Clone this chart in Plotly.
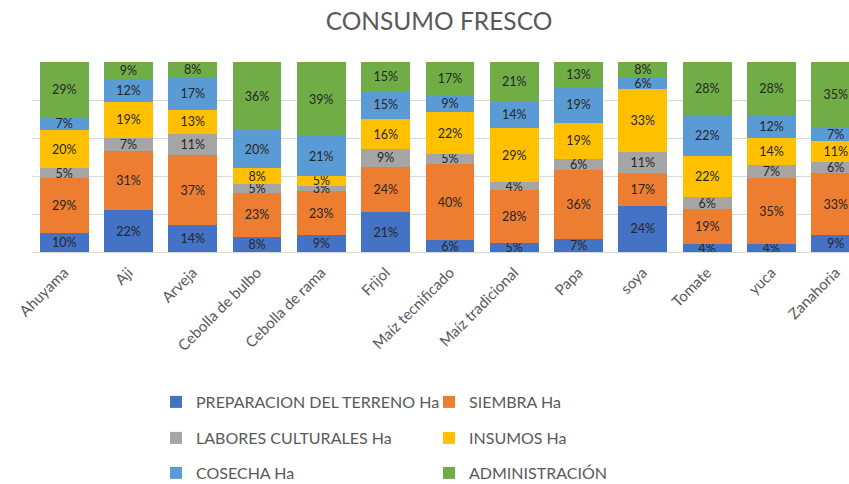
import plotly.graph_objects as go

# Cultivos (eje X)
cultivos = ["Ahuyama", "Aji", "Arveja", "Cebolla de bulbo", "Cebolla de rama", "Frijol",
            "Maíz tecnificado", "Maíz tradicional", "Papa", "soya", "Tomate", "yuca", "Zanahoria"]

# Participación (%) de cada rubro de costo por cultivo
preparacion = [10, 22, 14, 8, 9, 21, 6, 5, 7, 24, 4, 4, 9]
siembra = [29, 31, 37, 23, 23, 24, 40, 28, 36, 17, 19, 35, 33]
labores = [5, 7, 11, 5, 3, 9, 5, 4, 6, 11, 6, 7, 6]
insumos = [20, 19, 13, 8, 5, 16, 22, 29, 19, 33, 22, 14, 11]
cosecha = [7, 12, 17, 20, 21, 15, 9, 14, 19, 6, 22, 12, 7]
administracion = [29, 9, 8, 36, 39, 15, 17, 21, 13, 8, 28, 28, 35]

series = [
    ("PREPARACION DEL TERRENO Ha", preparacion, "#4472C4", "legend"),
    ("SIEMBRA Ha", siembra, "#ED7D31", "legend"),
    ("LABORES CULTURALES Ha", labores, "#A5A5A5", "legend2"),
    ("INSUMOS Ha", insumos, "#FFC000", "legend2"),
    ("COSECHA Ha", cosecha, "#5B9BD5", "legend3"),
    ("ADMINISTRACIÓN", administracion, "#70AD47", "legend3"),
]

FONT = "Lato, Open Sans, sans-serif"

fig = go.Figure()
for name, vals, color, leg in series:
    fig.add_trace(go.Bar(
        x=cultivos, y=vals, name=name,
        marker=dict(color=color, line=dict(width=0)),
        text=[f"{v}%" for v in vals],
        textposition="inside", insidetextanchor="middle", textangle=0,
        textfont=dict(family=FONT, size=12.5, color="#262626"),
        constraintext="none",
        legend=leg,
    ))

# Figure and plotting-area geometry in pixels
W, H = 849, 484
ml, mt, mb = 32, 62, 232
pitch = 64.3
plot_w = W - ml

# Three one-row legends give the two-column, widely spaced key
legend_common = dict(
    orientation="h", xanchor="left", yanchor="middle",
    xref="container", yref="container",
    traceorder="normal",
    font=dict(family=FONT, size=16, color="#595959"),
    entrywidth=228, entrywidthmode="pixels",
    bgcolor="rgba(0,0,0,0)", itemclick=False, itemdoubleclick=False,
    x=156 / W,
)

fig.update_layout(
    width=W, height=H,
    margin=dict(l=ml, r=0, t=mt, b=mb, autoexpand=False),
    paper_bgcolor="white", plot_bgcolor="white",
    barmode="stack", barnorm="percent", bargap=0.24,
    uniformtext=dict(minsize=12, mode="show"),
    title=dict(text="CONSUMO FRESCO", x=439 / W, xanchor="center",
               y=1 - 21 / H, yanchor="middle",
               font=dict(family=FONT, size=24.5, color="#595959")),
    xaxis=dict(range=[-0.5, -0.5 + plot_w / pitch], tickangle=-45,
               tickfont=dict(family=FONT, size=15, color="#595959"),
               ticklabelstandoff=5,
               showline=True, linecolor="#D9D9D9", linewidth=1,
               ticks="", showgrid=False),
    yaxis=dict(range=[0, 100], dtick=20, showticklabels=False,
               gridcolor="#D9D9D9", gridwidth=1, zeroline=False),
    legend=dict(**legend_common, y=1 - 402 / H),
    legend2=dict(**legend_common, y=1 - 438 / H),
    legend3=dict(**legend_common, y=1 - 473 / H),
    showlegend=True,
)

fig.write_html("out.html")
